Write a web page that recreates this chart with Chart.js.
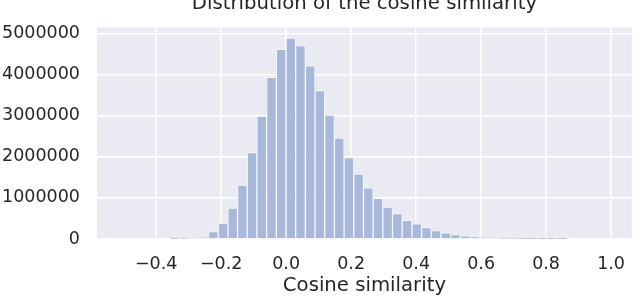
<!DOCTYPE html>
<html>
<head>
<meta charset="utf-8">
<script src="https://cdn.jsdelivr.net/npm/chart.js@4/dist/chart.umd.min.js"></script>
<style>
  html, body { margin: 0; padding: 0; background: #ffffff; }
  #wrap { width: 640px; height: 299px; position: relative; }
</style>
</head>
<body>
<div id="wrap"><canvas id="hist"></canvas></div>
<script>
  // histogram bins: left edge of first bin, bin width, counts per bin
  const binStart = -0.507;
  const binWidth = 0.0298;
  const counts = [
    0, 0, 0, 0, 0, 1000, 4000, 16000, 42000, 180000,
    380000, 750000, 1310000, 2100000, 2990000, 3930000, 4610000, 4880000, 4700000, 4210000,
    3610000, 3010000, 2450000, 1980000, 1575000, 1245000, 990000, 775000, 620000, 455000,
    370000, 276000, 206000, 152000, 105000, 80000, 55000, 35000, 14000, 8000,
    5000, 3000, 2000, 1000, 500, 300, 0, 0, 0, 0
  ];
  const xTicks = [-0.4, -0.2, 0.0, 0.2, 0.4, 0.6, 0.8, 1.0];
  const yTicks = [0, 1000000, 2000000, 3000000, 4000000, 5000000];
  const xRange = [-0.582, 1.064];
  const yMax = 5140000;
  const titleText = "Distribution of the cosine similarity";

  const points = counts.map((c, i) => ({ x: binStart + (i + 0.5) * binWidth, y: c }));

  const fmtX = (v) => (Math.round(v * 10) / 10).toFixed(1).replace("-", "\u2212");

  const family = "'DejaVu Sans', sans-serif";
  const tickFont = { family, size: 17.5 };
  const labelFont = { family, size: 19.7 };
  const ink = "#262626";

  new Chart(document.getElementById("hist"), {
    type: "bar",
    data: {
      datasets: [{
        data: points,
        backgroundColor: "#a7b8da",
        borderColor: "rgba(255,255,255,0.55)",
        borderWidth: 1,
        barPercentage: 1.0,
        categoryPercentage: 1.0,
      }],
    },
    options: {
      responsive: true,
      maintainAspectRatio: false,
      animation: false,
      layout: { padding: { left: 0, right: 0, top: 19, bottom: 0 } },
      plugins: {
        legend: { display: false },
        tooltip: { enabled: false },
        title: { display: false },
      },
      scales: {
        x: {
          type: "linear",
          min: xRange[0],
          max: xRange[1],
          offset: false,
          border: { display: false },
          grid: { color: "#ffffff", lineWidth: 1.5, drawTicks: false, offset: false },
          afterBuildTicks: (s) => { s.ticks = xTicks.map((v) => ({ value: v })); },
          afterFit: (s) => { s.height = 60; },
          ticks: { color: ink, font: tickFont, padding: 15, maxRotation: 0, callback: (v) => fmtX(v) },
          title: { display: true, text: "Cosine similarity", color: ink, font: labelFont, padding: { top: 0, bottom: 1 } },
        },
        y: {
          min: 0,
          max: yMax,
          border: { display: false },
          grid: { color: "#ffffff", lineWidth: 1.5, drawTicks: false },
          afterBuildTicks: (s) => { s.ticks = yTicks.map((v) => ({ value: v })); },
          afterFit: (s) => { s.width = 97; },
          ticks: { color: ink, font: tickFont, padding: 17, callback: (v) => String(v) },
        },
      },
    },
    plugins: [{
      id: "panel",
      beforeDraw(chart) {
        const { ctx, chartArea: a } = chart;
        ctx.save();
        ctx.fillStyle = "#eaeaf2";
        ctx.fillRect(a.left, a.top, a.right - a.left, a.bottom - a.top);
        ctx.restore();
      },
      afterDraw(chart) {
        // title sits partly above the canvas, as in the reference
        const { ctx, chartArea: a } = chart;
        ctx.save();
        ctx.fillStyle = ink;
        ctx.font = `${labelFont.size}px ${family}`;
        ctx.textAlign = "center";
        ctx.textBaseline = "alphabetic";
        ctx.fillText(titleText, (a.left + a.right) / 2, 9);
        ctx.restore();
      },
    }],
  });
</script>
</body>
</html>
